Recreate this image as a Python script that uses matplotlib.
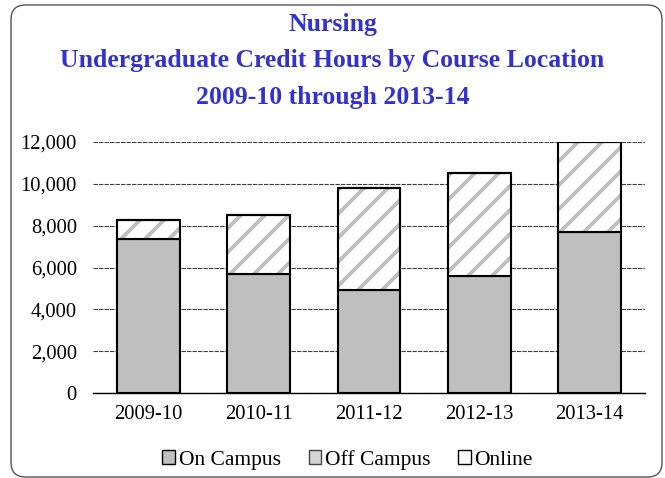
import numpy as np
import matplotlib.pyplot as plt
from matplotlib.patches import FancyBboxPatch, Patch

# dados
anos = ['2009-10', '2010-11', '2011-12', '2012-13', '2013-14']
on_campus = [7360, 5690, 4920, 5590, 7700]
off_campus = [910, 2820, 4880, 4930, 4290]
online = [20, 20, 20, 20, 20]

DPI = 72  # densidade da hachura depende do dpi


def px(v):
    # pixels -> pontos
    return v * 72 / DPI


plt.rcParams['font.family'] = ['Liberation Serif', 'DejaVu Serif']
plt.rcParams['hatch.linewidth'] = px(4.0)

fig = plt.figure(figsize=(665 / DPI, 478 / DPI), dpi=DPI)
ax = fig.add_axes([93 / 665, 1 - 393 / 478, 552 / 665, 251 / 478])

x = np.arange(len(anos))
w = 0.57
on = np.array(on_campus)
off = np.array(off_campus)
onl = np.array(online)

ax.bar(x, on, w, color='#BFBFBF', edgecolor='black', linewidth=px(2.1), zorder=3)
# hachura cinza, depois contorno preto
ax.bar(x, off, w, bottom=on, color='white', edgecolor='#C0C0C0', hatch='/', linewidth=0, zorder=3)
ax.bar(x, off, w, bottom=on, fill=False, edgecolor='black', linewidth=px(2.1), zorder=4)
ax.bar(x, onl, w, bottom=on + off, color='white', edgecolor='black', linewidth=px(2.1), zorder=4)

ax.set_xlim(-0.5, 4.5)
ax.set_ylim(0, 12000)
ax.set_yticks(np.arange(0, 12001, 2000))
ax.set_yticklabels([f'{v:,}' for v in range(0, 12001, 2000)])
ax.set_xticks(x)
ax.set_xticklabels(anos)
ax.tick_params(axis='both', length=0, labelsize=px(20.5))
ax.tick_params(axis='x', pad=px(12))
ax.tick_params(axis='y', pad=px(16))
ax.yaxis.grid(True, color='#404040', linewidth=px(1.1), linestyle=(0, (4, 1)), zorder=0)
for s in ['top', 'right', 'left']:
    ax.spines[s].set_visible(False)
ax.spines['bottom'].set_linewidth(px(1.4))

fig.text(0.5, 1 - 13 / 478, 'Nursing\nUndergraduate Credit Hours by Course Location\n2009-10 through 2013-14',
         ha='center', va='top', color='#3333CC', fontsize=px(25.8), fontweight='bold', linespacing=1.74)

handles = [Patch(facecolor='#BFBFBF', edgecolor='black', linewidth=px(1.4), label='On Campus'),
           Patch(facecolor='#D4D4D4', edgecolor='#444444', linewidth=px(1.4), label='Off Campus'),
           Patch(facecolor='white', edgecolor='black', linewidth=px(1.4), label='Online')]
fig.legend(handles=handles, loc='center', bbox_to_anchor=(0.5226, 0.038), ncol=3, frameon=False,
           fontsize=px(21.5), handlelength=0.6, handleheight=0.6, handletextpad=0.15, columnspacing=1.3,
           borderpad=0)

borda = FancyBboxPatch((11 / 665, 1 - 477 / 478), 651 / 665, 472 / 478,
                       boxstyle='round,pad=0,rounding_size=0.022',
                       transform=fig.transFigure, fill=False, edgecolor='#555555', linewidth=px(1.4),
                       mutation_aspect=665 / 478)
fig.patches.append(borda)

fig.savefig('out.png', dpi=DPI)
